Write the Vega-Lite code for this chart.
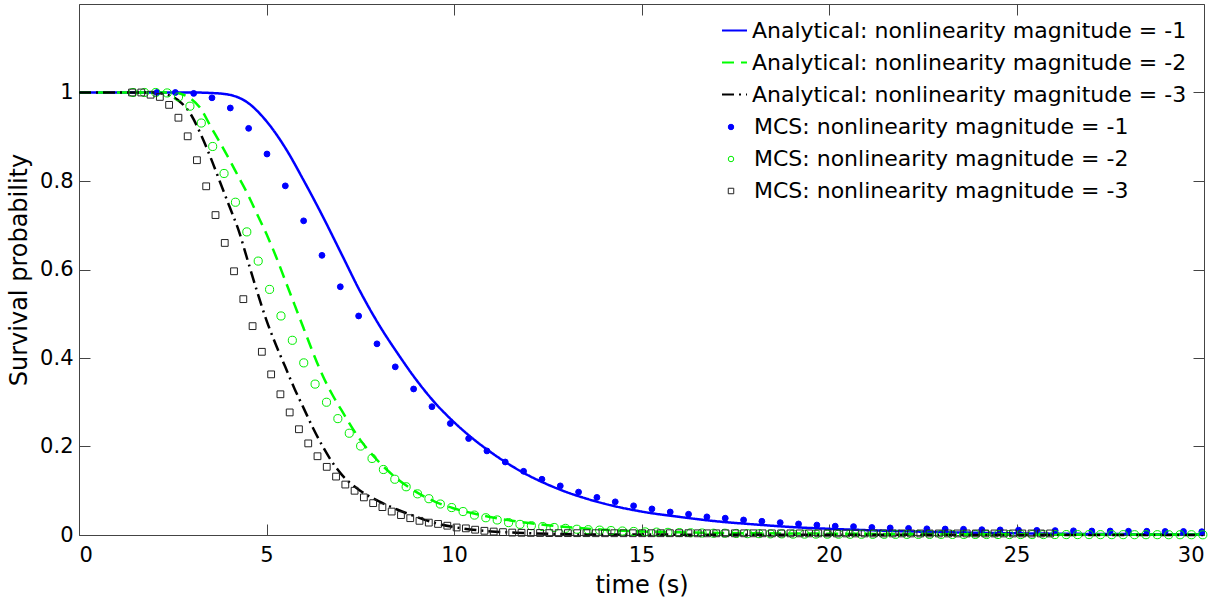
{
  "$schema": "https://vega.github.io/schema/vega-lite/v6.json",
  "width": 1125,
  "height": 531,
  "autosize": {"type": "none"},
  "padding": {"left": 79, "top": 4, "right": 27, "bottom": 66},
  "background": "white",
  "config": {
    "view": {"stroke": null},
    "font": "DejaVu Sans",
    "axis": {
      "grid": false, "domainColor": "#444", "tickColor": "#444", "labelColor": "#000", "titleColor": "#000",
      "labelFont": "DejaVu Sans", "titleFont": "DejaVu Sans", "labelFontSize": 21, "titleFontSize": 24,
      "titleFontWeight": "normal", "tickSize": -11, "domainWidth": 1, "tickWidth": 1
    },
    "legend": {"labelFont": "DejaVu Sans", "labelFontSize": 22, "labelColor": "#000", "labelLimit": 900, "padding": 0}
  },
  "datasets": {
    "a1": [{"t":0,"p":1},{"t":3,"p":1},{"t":3.5,"p":0.999},{"t":4,"p":0.995},{"t":4.5,"p":0.977},{"t":5,"p":0.935},{"t":5.5,"p":0.875},{"t":6,"p":0.8},{"t":6.5,"p":0.72},{"t":7,"p":0.635},{"t":7.5,"p":0.55},{"t":8,"p":0.475},{"t":8.5,"p":0.41},{"t":9,"p":0.35},{"t":9.5,"p":0.298},{"t":10,"p":0.255},{"t":10.5,"p":0.218},{"t":11,"p":0.186},{"t":11.5,"p":0.158},{"t":12,"p":0.134},{"t":12.5,"p":0.114},{"t":13,"p":0.097},{"t":13.5,"p":0.083},{"t":14,"p":0.071},{"t":15,"p":0.053},{"t":16,"p":0.041},{"t":17,"p":0.031},{"t":18,"p":0.024},{"t":19,"p":0.018},{"t":20,"p":0.014},{"t":21,"p":0.011},{"t":22,"p":0.0085},{"t":24,"p":0.005},{"t":26,"p":0.003},{"t":28,"p":0.002},{"t":30,"p":0.0015}],
    "a2": [{"t":0,"p":1},{"t":2.5,"p":1},{"t":2.75,"p":0.996},{"t":3,"p":0.985},{"t":3.25,"p":0.963},{"t":3.5,"p":0.925},{"t":3.75,"p":0.888},{"t":4,"p":0.85},{"t":4.25,"p":0.81},{"t":4.5,"p":0.77},{"t":4.75,"p":0.725},{"t":5,"p":0.68},{"t":5.25,"p":0.63},{"t":5.5,"p":0.575},{"t":5.75,"p":0.52},{"t":6,"p":0.465},{"t":6.25,"p":0.41},{"t":6.5,"p":0.36},{"t":6.75,"p":0.318},{"t":7,"p":0.282},{"t":7.5,"p":0.215},{"t":8,"p":0.165},{"t":8.5,"p":0.126},{"t":9,"p":0.097},{"t":9.5,"p":0.075},{"t":10,"p":0.06},{"t":10.5,"p":0.049},{"t":11,"p":0.04},{"t":11.5,"p":0.033},{"t":12,"p":0.027},{"t":12.5,"p":0.022},{"t":13,"p":0.018},{"t":14,"p":0.012},{"t":15,"p":0.008},{"t":16,"p":0.006},{"t":18,"p":0.004},{"t":20,"p":0.003},{"t":25,"p":0.0015},{"t":30,"p":0.001}],
    "a3": [{"t":0,"p":1},{"t":2,"p":1},{"t":2.25,"p":0.997},{"t":2.5,"p":0.99},{"t":2.75,"p":0.975},{"t":3,"p":0.948},{"t":3.25,"p":0.905},{"t":3.5,"p":0.855},{"t":3.75,"p":0.8},{"t":4,"p":0.745},{"t":4.25,"p":0.69},{"t":4.5,"p":0.62},{"t":4.75,"p":0.55},{"t":5,"p":0.485},{"t":5.25,"p":0.43},{"t":5.5,"p":0.38},{"t":5.75,"p":0.33},{"t":6,"p":0.285},{"t":6.25,"p":0.24},{"t":6.5,"p":0.2},{"t":6.75,"p":0.165},{"t":7,"p":0.137},{"t":7.5,"p":0.1},{"t":8,"p":0.076},{"t":8.5,"p":0.057},{"t":9,"p":0.041},{"t":9.5,"p":0.027},{"t":10,"p":0.018},{"t":10.5,"p":0.012},{"t":11,"p":0.008},{"t":11.5,"p":0.006},{"t":12,"p":0.004},{"t":13,"p":0.002},{"t":15,"p":0.001},{"t":20,"p":0.0005},{"t":30,"p":0}],
    "m1": [{"t":2.08,"p":1},{"t":2.569,"p":1},{"t":3.058,"p":0.998},{"t":3.546,"p":0.988},{"t":4.035,"p":0.965},{"t":4.524,"p":0.919},{"t":5.013,"p":0.861},{"t":5.502,"p":0.789},{"t":5.99,"p":0.71},{"t":6.479,"p":0.632},{"t":6.968,"p":0.561},{"t":7.457,"p":0.495},{"t":7.946,"p":0.432},{"t":8.434,"p":0.38},{"t":8.923,"p":0.33},{"t":9.412,"p":0.29},{"t":9.901,"p":0.252},{"t":10.39,"p":0.218},{"t":10.878,"p":0.19},{"t":11.367,"p":0.165},{"t":11.856,"p":0.144},{"t":12.345,"p":0.126},{"t":12.834,"p":0.111},{"t":13.322,"p":0.097},{"t":13.811,"p":0.085},{"t":14.3,"p":0.075},{"t":14.789,"p":0.066},{"t":15.278,"p":0.059},{"t":15.766,"p":0.052},{"t":16.255,"p":0.047},{"t":16.744,"p":0.041},{"t":17.233,"p":0.038},{"t":17.722,"p":0.034},{"t":18.21,"p":0.031},{"t":18.699,"p":0.028},{"t":19.188,"p":0.025},{"t":19.677,"p":0.0225},{"t":20.166,"p":0.02},{"t":20.654,"p":0.019},{"t":21.143,"p":0.017},{"t":21.632,"p":0.016},{"t":22.121,"p":0.015},{"t":22.61,"p":0.014},{"t":23.098,"p":0.0135},{"t":23.587,"p":0.013},{"t":24.076,"p":0.012},{"t":24.565,"p":0.0115},{"t":25.054,"p":0.011},{"t":25.542,"p":0.0105},{"t":26.031,"p":0.01},{"t":26.52,"p":0.0095},{"t":27.009,"p":0.009},{"t":27.498,"p":0.009},{"t":27.986,"p":0.0085},{"t":28.475,"p":0.0085},{"t":28.964,"p":0.008},{"t":29.453,"p":0.008},{"t":29.942,"p":0.0075}],
    "m2": [{"t":1.44,"p":1},{"t":1.744,"p":1},{"t":2.047,"p":1},{"t":2.351,"p":0.999},{"t":2.654,"p":0.99},{"t":2.958,"p":0.969},{"t":3.261,"p":0.931},{"t":3.565,"p":0.878},{"t":3.868,"p":0.817},{"t":4.172,"p":0.752},{"t":4.475,"p":0.685},{"t":4.779,"p":0.619},{"t":5.082,"p":0.555},{"t":5.386,"p":0.495},{"t":5.689,"p":0.44},{"t":5.993,"p":0.389},{"t":6.296,"p":0.341},{"t":6.6,"p":0.3},{"t":6.903,"p":0.263},{"t":7.207,"p":0.23},{"t":7.51,"p":0.201},{"t":7.814,"p":0.173},{"t":8.117,"p":0.148},{"t":8.421,"p":0.126},{"t":8.724,"p":0.109},{"t":9.028,"p":0.093},{"t":9.331,"p":0.082},{"t":9.635,"p":0.07},{"t":9.938,"p":0.062},{"t":10.242,"p":0.053},{"t":10.545,"p":0.045},{"t":10.849,"p":0.039},{"t":11.152,"p":0.034},{"t":11.456,"p":0.028},{"t":11.759,"p":0.024},{"t":12.063,"p":0.021},{"t":12.366,"p":0.019},{"t":12.67,"p":0.017},{"t":12.973,"p":0.015},{"t":13.277,"p":0.013},{"t":13.58,"p":0.012},{"t":13.884,"p":0.011},{"t":14.187,"p":0.01},{"t":14.491,"p":0.009},{"t":14.794,"p":0.008},{"t":15.098,"p":0.007},{"t":15.401,"p":0.0065},{"t":15.705,"p":0.006},{"t":16.008,"p":0.0055},{"t":16.312,"p":0.005},{"t":16.615,"p":0.0045},{"t":16.919,"p":0.004},{"t":17.222,"p":0.004},{"t":17.526,"p":0.0035},{"t":17.829,"p":0.003},{"t":18.133,"p":0.003},{"t":18.436,"p":0.0025},{"t":18.74,"p":0.0025},{"t":19.043,"p":0.002},{"t":19.347,"p":0.002},{"t":19.65,"p":0.002},{"t":19.954,"p":0.0018},{"t":20.257,"p":0.0018},{"t":20.561,"p":0.0016},{"t":20.864,"p":0.0016},{"t":21.168,"p":0.0015},{"t":21.471,"p":0.0015},{"t":21.775,"p":0.0015},{"t":22.078,"p":0.0014},{"t":22.382,"p":0.0014},{"t":22.685,"p":0.0013},{"t":22.989,"p":0.0013},{"t":23.292,"p":0.0012},{"t":23.596,"p":0.0012},{"t":23.899,"p":0.0012},{"t":24.203,"p":0.0011},{"t":24.506,"p":0.0011},{"t":24.81,"p":0.001},{"t":25.113,"p":0.001},{"t":25.417,"p":0.001},{"t":25.72,"p":0.001},{"t":26.024,"p":0.001},{"t":26.327,"p":0.0009},{"t":26.631,"p":0.0009},{"t":26.934,"p":0.0009},{"t":27.238,"p":0.0008},{"t":27.541,"p":0.0008},{"t":27.845,"p":0.0008},{"t":28.148,"p":0.0007},{"t":28.452,"p":0.0007},{"t":28.755,"p":0.0007},{"t":29.059,"p":0.0006},{"t":29.362,"p":0.0006},{"t":29.666,"p":0.0006},{"t":29.969,"p":0.0005}],
    "m3": [{"t":1.414,"p":1},{"t":1.661,"p":1},{"t":1.909,"p":0.995},{"t":2.156,"p":0.99},{"t":2.403,"p":0.972},{"t":2.651,"p":0.943},{"t":2.898,"p":0.901},{"t":3.145,"p":0.847},{"t":3.392,"p":0.788},{"t":3.64,"p":0.723},{"t":3.887,"p":0.66},{"t":4.134,"p":0.596},{"t":4.382,"p":0.533},{"t":4.629,"p":0.472},{"t":4.876,"p":0.414},{"t":5.124,"p":0.363},{"t":5.371,"p":0.318},{"t":5.618,"p":0.277},{"t":5.865,"p":0.239},{"t":6.113,"p":0.207},{"t":6.36,"p":0.178},{"t":6.607,"p":0.154},{"t":6.855,"p":0.132},{"t":7.102,"p":0.114},{"t":7.349,"p":0.1},{"t":7.597,"p":0.085},{"t":7.844,"p":0.072},{"t":8.091,"p":0.063},{"t":8.338,"p":0.053},{"t":8.586,"p":0.045},{"t":8.833,"p":0.038},{"t":9.08,"p":0.032},{"t":9.328,"p":0.028},{"t":9.575,"p":0.025},{"t":9.822,"p":0.021},{"t":10.07,"p":0.017},{"t":10.317,"p":0.015},{"t":10.564,"p":0.012},{"t":10.811,"p":0.0095},{"t":11.059,"p":0.0078},{"t":11.306,"p":0.0065},{"t":11.553,"p":0.0055},{"t":11.801,"p":0.005},{"t":12.048,"p":0.0047},{"t":12.295,"p":0.0045},{"t":12.543,"p":0.0043},{"t":12.79,"p":0.0042},{"t":13.037,"p":0.0042},{"t":13.284,"p":0.0041},{"t":13.532,"p":0.0041},{"t":13.779,"p":0.004},{"t":14.026,"p":0.004},{"t":14.274,"p":0.004},{"t":14.521,"p":0.004},{"t":14.768,"p":0.004},{"t":15.016,"p":0.004},{"t":15.263,"p":0.004},{"t":15.51,"p":0.004},{"t":15.757,"p":0.004},{"t":16.005,"p":0.004},{"t":16.252,"p":0.004},{"t":16.499,"p":0.0038},{"t":16.747,"p":0.0038},{"t":16.994,"p":0.0038},{"t":17.241,"p":0.0038},{"t":17.489,"p":0.0038},{"t":17.736,"p":0.0038},{"t":17.983,"p":0.0038},{"t":18.23,"p":0.0038},{"t":18.478,"p":0.0037},{"t":18.725,"p":0.0037},{"t":18.972,"p":0.0037},{"t":19.22,"p":0.0037},{"t":19.467,"p":0.0037},{"t":19.714,"p":0.0037},{"t":19.962,"p":0.0037},{"t":20.209,"p":0.0036},{"t":20.456,"p":0.0036},{"t":20.703,"p":0.0036},{"t":20.951,"p":0.0036},{"t":21.198,"p":0.0036},{"t":21.445,"p":0.0036},{"t":21.693,"p":0.0036},{"t":21.94,"p":0.0036},{"t":22.187,"p":0.0035},{"t":22.435,"p":0.0035},{"t":22.682,"p":0.0035},{"t":22.929,"p":0.0035},{"t":23.176,"p":0.0035},{"t":23.424,"p":0.0035},{"t":23.671,"p":0.0035},{"t":23.918,"p":0.0035},{"t":24.166,"p":0.0035},{"t":24.413,"p":0.0035},{"t":24.66,"p":0.0035},{"t":24.908,"p":0.0035},{"t":25.155,"p":0.0035},{"t":25.402,"p":0.0035},{"t":25.649,"p":0.0035},{"t":25.897,"p":0.0035}]
  },
  "resolve": {"axis": {"x": "independent", "y": "independent"}},
  "layer": [
    {
      "data": {"name": "a1"},
      "mark": {"type": "line", "strokeWidth": 2.5, "interpolate": "monotone"},
      "encoding": {
        "x": {"field": "t", "type": "quantitative", "scale": {"domain": [0, 30], "nice": false},
              "axis": {"orient": "bottom", "values": [0, 5, 10, 15, 20, 25, 30], "format": "~g", "labelPadding": 20, "title": "time (s)", "titlePadding": 8}},
        "y": {"field": "p", "type": "quantitative", "scale": {"domain": [0, 1.2], "nice": false},
              "axis": {"orient": "left", "values": [0, 0.2, 0.4, 0.6, 0.8, 1], "format": "~g", "labelPadding": 17, "title": "Survival probability", "titlePadding": 8}},
        "color": {"datum": "Analytical: nonlinearity magnitude = -1", "type": "nominal",
                  "scale": {"domain": ["Analytical: nonlinearity magnitude = -1", "Analytical: nonlinearity magnitude = -2", "Analytical: nonlinearity magnitude = -3"], "range": ["#0000ff", "#00ff00", "#000000"]},
                  "legend": {"title": null, "orient": "none", "legendX": 642, "legendY": 13, "symbolType": "stroke", "symbolSize": 625, "symbolStrokeWidth": 2, "labelOffset": 4, "rowPadding": 7}},
        "strokeDash": {"datum": "Analytical: nonlinearity magnitude = -1", "type": "nominal",
                  "scale": {"domain": ["Analytical: nonlinearity magnitude = -1", "Analytical: nonlinearity magnitude = -2", "Analytical: nonlinearity magnitude = -3"], "range": [[1, 0], [12, 7], [12, 5, 2, 5]]},
                  "legend": {"title": null, "orient": "none", "legendX": 642, "legendY": 13, "symbolType": "stroke", "symbolSize": 625, "symbolStrokeWidth": 2, "labelOffset": 4, "rowPadding": 7}}
      }
    },
    {
      "data": {"name": "a2"},
      "mark": {"type": "line", "strokeWidth": 2.5, "interpolate": "monotone"},
      "encoding": {
        "x": {"field": "t", "type": "quantitative", "axis": {"orient": "top", "values": [0, 5, 10, 15, 20, 25, 30], "labels": false, "title": null}},
        "y": {"field": "p", "type": "quantitative", "axis": {"orient": "right", "values": [0, 0.2, 0.4, 0.6, 0.8, 1], "labels": false, "title": null}},
        "color": {"datum": "Analytical: nonlinearity magnitude = -2", "type": "nominal"},
        "strokeDash": {"datum": "Analytical: nonlinearity magnitude = -2", "type": "nominal"}
      }
    },
    {
      "data": {"name": "a3"},
      "mark": {"type": "line", "strokeWidth": 2.5, "interpolate": "monotone"},
      "encoding": {
        "x": {"field": "t", "type": "quantitative", "axis": null},
        "y": {"field": "p", "type": "quantitative", "axis": null},
        "color": {"datum": "Analytical: nonlinearity magnitude = -3", "type": "nominal"},
        "strokeDash": {"datum": "Analytical: nonlinearity magnitude = -3", "type": "nominal"}
      }
    },
    {
      "data": {"name": "m1"},
      "mark": {"type": "point", "size": 34, "strokeWidth": 1, "opacity": 1},
      "encoding": {
        "x": {"field": "t", "type": "quantitative", "axis": null},
        "y": {"field": "p", "type": "quantitative", "axis": null},
        "stroke": {"datum": "MCS: nonlinearity magnitude = -1", "type": "nominal",
                   "scale": {"domain": ["MCS: nonlinearity magnitude = -1", "MCS: nonlinearity magnitude = -2", "MCS: nonlinearity magnitude = -3"], "range": ["#0000ff", "#00ee00", "#222222"]},
                   "legend": {"title": null, "orient": "none", "legendX": 641, "legendY": 112, "symbolSize": 30, "symbolStrokeWidth": 1, "labelOffset": 12, "rowPadding": 10}},
        "fill": {"datum": "MCS: nonlinearity magnitude = -1", "type": "nominal",
                 "scale": {"domain": ["MCS: nonlinearity magnitude = -1", "MCS: nonlinearity magnitude = -2", "MCS: nonlinearity magnitude = -3"], "range": ["#0000ff", "transparent", "transparent"]},
                 "legend": {"title": null, "orient": "none", "legendX": 641, "legendY": 112, "symbolSize": 30, "symbolStrokeWidth": 1, "labelOffset": 12, "rowPadding": 10}},
        "shape": {"datum": "MCS: nonlinearity magnitude = -1", "type": "nominal",
                  "scale": {"domain": ["MCS: nonlinearity magnitude = -1", "MCS: nonlinearity magnitude = -2", "MCS: nonlinearity magnitude = -3"], "range": ["circle", "circle", "square"]},
                  "legend": {"title": null, "orient": "none", "legendX": 641, "legendY": 112, "symbolSize": 30, "symbolStrokeWidth": 1, "labelOffset": 12, "rowPadding": 10}}
      }
    },
    {
      "data": {"name": "m2"},
      "mark": {"type": "point", "size": 66, "strokeWidth": 1, "opacity": 1},
      "encoding": {
        "x": {"field": "t", "type": "quantitative", "axis": null},
        "y": {"field": "p", "type": "quantitative", "axis": null},
        "stroke": {"datum": "MCS: nonlinearity magnitude = -2", "type": "nominal"},
        "fill": {"datum": "MCS: nonlinearity magnitude = -2", "type": "nominal"},
        "shape": {"datum": "MCS: nonlinearity magnitude = -2", "type": "nominal"}
      }
    },
    {
      "data": {"name": "m3"},
      "mark": {"type": "point", "size": 46, "strokeWidth": 1, "opacity": 1},
      "encoding": {
        "x": {"field": "t", "type": "quantitative", "axis": null},
        "y": {"field": "p", "type": "quantitative", "axis": null},
        "stroke": {"datum": "MCS: nonlinearity magnitude = -3", "type": "nominal"},
        "fill": {"datum": "MCS: nonlinearity magnitude = -3", "type": "nominal"},
        "shape": {"datum": "MCS: nonlinearity magnitude = -3", "type": "nominal"}
      }
    }
  ]
}
